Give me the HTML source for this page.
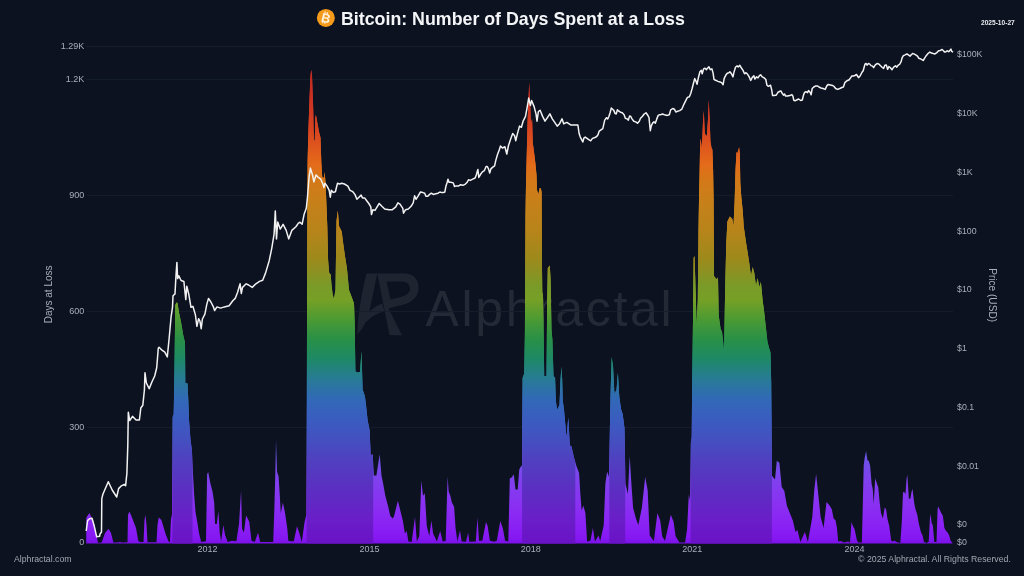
<!DOCTYPE html>
<html><head><meta charset="utf-8"><title>Bitcoin: Number of Days Spent at a Loss</title>
<style>
html,body{margin:0;padding:0;background:#0c1220;}
body{width:1024px;height:576px;overflow:hidden;position:relative;font-family:"Liberation Sans",Arial,sans-serif;}
svg{position:absolute;left:0;top:0;}
.title{position:absolute;left:341px;top:8.9px;font-weight:bold;font-size:17.8px;color:#f4f5f7;white-space:nowrap;letter-spacing:0px;}
.date{position:absolute;left:981px;top:18.5px;font-weight:bold;font-size:6.6px;color:#e8eaee;white-space:nowrap;}
</style></head>
<body>
<svg width="1024" height="576" viewBox="0 0 1024 576" font-family="'Liberation Sans', Arial, sans-serif">
<defs>
<linearGradient id="g" gradientUnits="userSpaceOnUse" x1="0" y1="543.6" x2="0" y2="45.0"><stop offset="0.0000" stop-color="#6a12c6"/><stop offset="0.0473" stop-color="#6a1ec8"/><stop offset="0.1075" stop-color="#5c2ec2"/><stop offset="0.1677" stop-color="#5040c0"/><stop offset="0.2078" stop-color="#4450c0"/><stop offset="0.2479" stop-color="#3a5cc0"/><stop offset="0.2880" stop-color="#3268b8"/><stop offset="0.3281" stop-color="#287a98"/><stop offset="0.3682" stop-color="#1e8868"/><stop offset="0.4083" stop-color="#289048"/><stop offset="0.4485" stop-color="#4a9a34"/><stop offset="0.4886" stop-color="#76a026"/><stop offset="0.5187" stop-color="#7a9a28"/><stop offset="0.5688" stop-color="#9c8a1c"/><stop offset="0.6290" stop-color="#b8841a"/><stop offset="0.6891" stop-color="#c8801a"/><stop offset="0.7292" stop-color="#d47818"/><stop offset="0.7593" stop-color="#e46c1a"/><stop offset="0.7894" stop-color="#e05a1c"/><stop offset="0.8295" stop-color="#d84420"/><stop offset="0.8897" stop-color="#cc3222"/><stop offset="0.9499" stop-color="#c02a22"/><stop offset="1.0000" stop-color="#b82822"/></linearGradient>
<linearGradient id="gb" gradientUnits="userSpaceOnUse" x1="0" y1="543.6" x2="0" y2="45.0"><stop offset="0.0000" stop-color="#7a10e6"/><stop offset="0.0112" stop-color="#8618f2"/><stop offset="0.0373" stop-color="#8a22f4"/><stop offset="0.0774" stop-color="#8a30f2"/><stop offset="0.1276" stop-color="#8040ee"/><stop offset="0.1777" stop-color="#6c54e6"/><stop offset="0.2278" stop-color="#5468dc"/><stop offset="0.2780" stop-color="#4078d0"/><stop offset="0.3281" stop-color="#2a8aa8"/><stop offset="0.3682" stop-color="#209478"/><stop offset="0.4083" stop-color="#2c9a50"/><stop offset="0.4485" stop-color="#50a238"/><stop offset="0.4886" stop-color="#7ca82a"/><stop offset="0.5187" stop-color="#84a42a"/><stop offset="0.5688" stop-color="#a89620"/><stop offset="0.6290" stop-color="#c8901c"/><stop offset="0.6891" stop-color="#d88a1a"/><stop offset="0.7292" stop-color="#e0821a"/><stop offset="0.7593" stop-color="#e8721c"/><stop offset="0.7894" stop-color="#e6601e"/><stop offset="0.8295" stop-color="#dc4a22"/><stop offset="0.8897" stop-color="#d03824"/><stop offset="0.9499" stop-color="#c42e24"/><stop offset="1.0000" stop-color="#bc2a24"/></linearGradient>
<clipPath id="tall"><rect x="172.4" y="0" width="20.1" height="576"/><rect x="306.6" y="0" width="66.6" height="576"/><rect x="522.1" y="0" width="53.2" height="576"/><rect x="609.3" y="0" width="15.9" height="576"/><rect x="690.6" y="0" width="81.3" height="576"/></clipPath>
</defs>
<g fill="#1e2531">
<path d="M366.5,273.5 L377.3,273.5 L368,318 C365,324 362,329 357.5,334.5 C357.5,320 360,300 366.5,273.5 Z"/>
<path d="M357.5,333 C361,319 370,308 382,303.5 L384.5,311 C372,315 364,322 357.5,333 Z"/>
<path fill-rule="evenodd" d="M377.3,273.5 L404,273.5 C415,273.5 419,281 418.5,289 C418,299 409,304 398,306 L388.5,308.5 L402,335.5 L389.5,335 Z M386.5,281.5 L402,281.5 C407.5,281.5 410,285 410,289 C410,293 406,296 399,297.5 L390.5,299.5 Z"/>
</g>
<text x="425.5" y="325.6" font-family="'Liberation Sans', sans-serif" font-size="50" fill="#232a36" textLength="246" lengthAdjust="spacing">Alphractal</text>
<line x1="86.5" y1="427.4" x2="953" y2="427.4" stroke="#171e2c" stroke-width="1"/><line x1="86.5" y1="311.6" x2="953" y2="311.6" stroke="#171e2c" stroke-width="1"/><line x1="86.5" y1="195.4" x2="953" y2="195.4" stroke="#171e2c" stroke-width="1"/><line x1="86.5" y1="79.3" x2="953" y2="79.3" stroke="#171e2c" stroke-width="1"/><line x1="86.5" y1="46.5" x2="953" y2="46.5" stroke="#171e2c" stroke-width="1"/>
<path d="M86.2,543.6 L86.3,517.7 L89.5,512.9 L93.4,521.5 L96.7,535.8 L98.0,542.8 L101.0,542.8 L102.0,541.6 L105.0,533.0 L108.6,528.7 L111.0,533.0 L113.4,542.5 L117.0,542.5 L120.0,541.9 L122.0,542.5 L127.5,542.2 L128.0,515.0 L129.3,511.5 L131.0,515.0 L133.5,521.5 L136.0,528.0 L138.3,541.1 L140.0,542.0 L143.5,542.0 L144.5,520.0 L145.4,514.8 L146.5,525.0 L147.5,542.2 L156.5,542.2 L157.5,525.0 L158.7,517.6 L161.4,520.0 L165.7,534.3 L168.6,541.5 L170.0,542.2 L170.9,520.0 L172.0,514.3 L172.6,417.1 L173.7,414.3 L174.3,380.0 L175.3,305.0 L176.5,302.4 L177.5,303.0 L179.0,312.5 L181.0,322.0 L183.2,335.0 L184.8,341.8 L185.0,342.0 L185.3,383.0 L187.5,383.5 L188.3,400.0 L189.0,420.0 L190.5,440.0 L191.9,450.0 L193.0,474.0 L194.2,495.0 L195.5,512.0 L197.3,522.0 L199.0,533.0 L201.2,541.9 L206.0,541.3 L207.1,474.2 L208.2,472.0 L210.3,482.9 L212.5,491.5 L214.2,502.4 L215.1,524.0 L216.8,524.0 L218.4,511.0 L219.7,532.7 L221.2,541.3 L223.3,525.1 L225.1,534.9 L227.7,541.9 L232.0,540.8 L236.4,541.3 L239.0,524.0 L241.1,490.4 L242.0,528.4 L243.9,532.7 L246.1,515.4 L248.3,519.7 L249.3,521.9 L251.5,540.8 L254.8,541.9 L258.0,532.7 L260.2,541.9 L273.2,541.9 L274.3,511.0 L275.3,474.2 L276.0,439.5 L277.1,472.0 L278.6,476.4 L279.7,493.7 L280.8,513.2 L282.9,502.4 L285.1,513.2 L287.3,528.4 L288.3,540.8 L290.5,541.3 L293.8,541.3 L297.0,526.2 L299.2,532.7 L301.8,541.9 L304.6,521.9 L306.3,515.0 L306.8,400.0 L307.2,250.0 L307.6,162.1 L308.4,130.5 L309.6,96.5 L310.5,75.0 L311.3,69.7 L312.0,75.0 L312.5,89.2 L313.2,108.6 L313.6,130.0 L314.1,141.0 L314.8,140.0 L315.3,118.0 L315.9,114.7 L316.7,119.0 L317.4,123.2 L319.3,133.0 L320.5,137.8 L321.3,162.0 L322.2,176.7 L324.0,178.0 L324.7,171.9 L325.4,181.6 L326.1,196.2 L327.3,226.3 L328.1,260.1 L329.2,273.1 L330.7,274.4 L331.5,285.0 L332.6,294.0 L333.9,299.2 L335.5,290.0 L336.5,221.0 L337.8,210.6 L339.1,226.3 L341.7,231.5 L343.0,241.9 L344.8,254.9 L346.9,267.9 L349.0,290.0 L352.4,299.0 L354.0,303.6 L354.7,323.9 L355.4,371.4 L357.6,372.5 L360.0,372.0 L361.5,351.0 L362.6,389.4 L364.9,396.2 L366.0,405.0 L367.6,420.2 L369.6,430.2 L370.7,455.4 L372.7,454.2 L373.9,475.6 L376.4,475.6 L379.7,454.2 L381.5,475.6 L383.5,485.6 L385.3,495.7 L388.3,507.0 L390.3,515.9 L392.8,518.4 L394.1,515.9 L397.9,500.8 L400.4,510.8 L402.9,520.9 L404.9,533.5 L406.7,531.0 L408.4,541.5 L411.7,542.1 L415.0,517.1 L416.8,541.5 L419.3,536.0 L421.3,480.6 L423.0,495.7 L424.8,493.2 L426.8,525.9 L429.3,536.0 L431.4,520.4 L433.1,533.5 L436.9,541.5 L440.2,531.0 L442.7,541.5 L445.7,540.9 L447.6,476.4 L448.7,491.6 L450.4,495.9 L451.9,502.4 L454.1,506.8 L455.6,528.5 L457.4,541.4 L460.0,530.6 L461.7,541.4 L466.0,541.7 L468.2,532.8 L469.3,541.7 L475.8,541.4 L477.5,517.6 L479.0,540.8 L482.3,540.8 L486.0,522.0 L487.7,526.3 L489.9,540.8 L494.2,541.7 L496.8,540.8 L500.3,520.9 L502.9,528.5 L505.1,540.8 L508.3,541.4 L509.8,478.6 L511.6,477.5 L513.8,474.2 L515.5,489.4 L517.7,489.4 L519.2,469.9 L520.0,467.8 L522.0,465.3 L522.3,420.0 L522.6,378.0 L524.2,373.5 L524.9,332.9 L525.5,215.0 L526.0,184.4 L526.8,152.8 L527.5,123.7 L528.5,99.3 L529.2,82.3 L530.2,104.2 L530.9,123.7 L532.1,118.8 L532.8,143.1 L534.1,152.8 L535.3,162.6 L536.5,175.0 L537.0,190.0 L538.4,194.2 L539.6,188.2 L540.8,188.3 L541.6,192.0 L541.9,260.0 L542.3,292.0 L543.0,295.0 L543.6,330.0 L544.2,376.0 L546.5,376.0 L547.2,300.0 L547.8,268.0 L549.8,265.4 L550.6,280.0 L551.5,330.0 L552.4,339.7 L553.5,375.8 L555.1,378.0 L555.8,400.0 L557.0,410.0 L559.5,405.0 L560.5,380.0 L561.4,366.7 L562.2,380.0 L562.7,400.0 L564.0,410.0 L566.5,437.7 L568.3,417.6 L569.8,445.2 L571.5,446.5 L574.0,457.8 L576.6,466.6 L579.1,472.9 L580.3,493.0 L581.6,510.6 L583.3,505.5 L585.4,513.1 L587.1,541.4 L590.4,540.8 L592.9,528.1 L594.9,541.4 L598.5,535.6 L600.2,540.9 L603.7,525.2 L605.4,483.6 L607.1,471.5 L608.9,476.7 L610.6,393.5 L611.6,357.1 L613.0,365.8 L614.4,393.5 L616.5,390.0 L617.9,372.7 L619.3,397.0 L621.0,409.1 L622.7,414.3 L624.5,428.2 L625.5,483.6 L627.9,494.0 L629.7,455.9 L631.4,483.6 L633.1,507.9 L635.9,518.3 L638.3,525.2 L641.8,507.9 L645.2,476.7 L647.7,490.5 L649.7,535.6 L653.9,540.9 L657.4,513.0 L660.2,520.4 L662.2,536.2 L665.0,541.0 L670.8,514.7 L673.6,521.8 L675.6,536.2 L679.4,542.5 L685.1,542.5 L687.1,529.0 L688.8,494.6 L690.0,500.3 L690.8,443.0 L691.7,437.3 L692.2,380.0 L693.0,320.0 L693.6,258.0 L694.5,256.1 L695.3,280.0 L696.6,325.0 L697.8,300.0 L698.5,230.0 L699.0,200.0 L699.5,177.6 L700.2,141.1 L700.7,138.7 L701.9,148.4 L703.1,119.2 L703.8,110.7 L704.8,133.8 L706.8,136.2 L708.0,119.2 L708.7,99.7 L709.7,119.2 L710.4,141.1 L711.6,148.4 L712.4,149.6 L713.1,170.3 L713.6,200.0 L714.0,275.9 L716.4,279.2 L718.0,277.6 L718.7,315.5 L720.6,328.7 L722.0,332.0 L723.0,340.0 L724.0,352.0 L725.3,282.5 L726.3,242.9 L727.4,221.4 L729.9,216.5 L732.3,219.0 L733.5,226.0 L734.7,200.0 L735.5,170.3 L736.5,152.0 L737.4,153.2 L739.1,147.2 L739.8,153.2 L740.3,182.5 L741.3,197.0 L742.8,211.6 L743.7,226.3 L746.1,242.9 L747.7,252.8 L749.4,264.0 L751.0,276.0 L752.7,267.0 L754.3,273.0 L756.0,286.0 L757.6,278.0 L759.3,287.0 L760.9,282.0 L762.6,300.0 L764.2,312.2 L765.6,325.0 L767.5,342.0 L769.2,348.5 L770.5,352.4 L771.2,382.3 L772.0,475.8 L775.0,479.5 L776.8,460.8 L779.4,462.7 L781.7,487.0 L784.3,490.7 L786.9,505.7 L789.9,513.2 L792.9,520.7 L795.5,531.9 L797.4,530.0 L800.4,541.9 L804.9,531.9 L807.9,541.9 L812.3,516.9 L814.2,490.7 L816.1,473.9 L817.9,490.7 L820.6,516.9 L823.6,528.1 L826.5,502.0 L829.2,505.0 L831.8,509.3 L833.6,518.4 L835.5,520.2 L836.9,527.5 L838.2,541.5 L840.9,541.0 L843.7,542.4 L848.2,541.5 L850.0,542.4 L851.5,522.0 L852.8,525.7 L854.6,529.3 L857.0,540.5 L858.3,542.4 L861.9,542.4 L863.7,465.5 L864.6,458.2 L866.1,450.9 L867.4,460.0 L868.8,461.0 L870.1,465.5 L871.6,483.7 L872.8,489.2 L873.7,503.8 L875.2,478.3 L877.0,483.7 L878.3,487.4 L879.6,502.0 L881.0,512.9 L882.9,518.4 L884.7,507.4 L886.1,509.3 L887.4,518.4 L889.2,525.7 L891.2,540.6 L893.0,541.4 L894.4,540.6 L896.6,542.1 L900.3,542.9 L901.8,522.0 L903.0,492.5 L904.0,491.8 L905.5,494.0 L906.5,479.2 L907.3,474.8 L908.0,485.1 L908.9,499.1 L910.4,498.4 L911.4,492.5 L912.5,488.8 L913.3,495.4 L914.4,504.3 L915.8,510.2 L917.3,514.7 L918.8,523.5 L921.0,532.4 L922.5,535.3 L924.0,542.1 L926.9,542.9 L928.7,541.4 L929.9,519.1 L930.6,513.9 L931.7,523.5 L932.8,525.0 L934.3,542.1 L936.5,542.1 L937.6,508.7 L938.4,506.5 L939.9,510.2 L941.4,513.2 L942.9,516.1 L944.4,527.9 L946.1,530.9 L947.6,532.4 L949.1,535.3 L950.6,540.6 L952.0,542.5 L952.8,543.6 Z" fill="url(#gb)"/>
<path d="M86.2,543.6 L86.3,517.7 L89.5,512.9 L93.4,521.5 L96.7,535.8 L98.0,542.8 L101.0,542.8 L102.0,541.6 L105.0,533.0 L108.6,528.7 L111.0,533.0 L113.4,542.5 L117.0,542.5 L120.0,541.9 L122.0,542.5 L127.5,542.2 L128.0,515.0 L129.3,511.5 L131.0,515.0 L133.5,521.5 L136.0,528.0 L138.3,541.1 L140.0,542.0 L143.5,542.0 L144.5,520.0 L145.4,514.8 L146.5,525.0 L147.5,542.2 L156.5,542.2 L157.5,525.0 L158.7,517.6 L161.4,520.0 L165.7,534.3 L168.6,541.5 L170.0,542.2 L170.9,520.0 L172.0,514.3 L172.6,417.1 L173.7,414.3 L174.3,380.0 L175.3,305.0 L176.5,302.4 L177.5,303.0 L179.0,312.5 L181.0,322.0 L183.2,335.0 L184.8,341.8 L185.0,342.0 L185.3,383.0 L187.5,383.5 L188.3,400.0 L189.0,420.0 L190.5,440.0 L191.9,450.0 L193.0,474.0 L194.2,495.0 L195.5,512.0 L197.3,522.0 L199.0,533.0 L201.2,541.9 L206.0,541.3 L207.1,474.2 L208.2,472.0 L210.3,482.9 L212.5,491.5 L214.2,502.4 L215.1,524.0 L216.8,524.0 L218.4,511.0 L219.7,532.7 L221.2,541.3 L223.3,525.1 L225.1,534.9 L227.7,541.9 L232.0,540.8 L236.4,541.3 L239.0,524.0 L241.1,490.4 L242.0,528.4 L243.9,532.7 L246.1,515.4 L248.3,519.7 L249.3,521.9 L251.5,540.8 L254.8,541.9 L258.0,532.7 L260.2,541.9 L273.2,541.9 L274.3,511.0 L275.3,474.2 L276.0,439.5 L277.1,472.0 L278.6,476.4 L279.7,493.7 L280.8,513.2 L282.9,502.4 L285.1,513.2 L287.3,528.4 L288.3,540.8 L290.5,541.3 L293.8,541.3 L297.0,526.2 L299.2,532.7 L301.8,541.9 L304.6,521.9 L306.3,515.0 L306.8,400.0 L307.2,250.0 L307.6,162.1 L308.4,130.5 L309.6,96.5 L310.5,75.0 L311.3,69.7 L312.0,75.0 L312.5,89.2 L313.2,108.6 L313.6,130.0 L314.1,141.0 L314.8,140.0 L315.3,118.0 L315.9,114.7 L316.7,119.0 L317.4,123.2 L319.3,133.0 L320.5,137.8 L321.3,162.0 L322.2,176.7 L324.0,178.0 L324.7,171.9 L325.4,181.6 L326.1,196.2 L327.3,226.3 L328.1,260.1 L329.2,273.1 L330.7,274.4 L331.5,285.0 L332.6,294.0 L333.9,299.2 L335.5,290.0 L336.5,221.0 L337.8,210.6 L339.1,226.3 L341.7,231.5 L343.0,241.9 L344.8,254.9 L346.9,267.9 L349.0,290.0 L352.4,299.0 L354.0,303.6 L354.7,323.9 L355.4,371.4 L357.6,372.5 L360.0,372.0 L361.5,351.0 L362.6,389.4 L364.9,396.2 L366.0,405.0 L367.6,420.2 L369.6,430.2 L370.7,455.4 L372.7,454.2 L373.9,475.6 L376.4,475.6 L379.7,454.2 L381.5,475.6 L383.5,485.6 L385.3,495.7 L388.3,507.0 L390.3,515.9 L392.8,518.4 L394.1,515.9 L397.9,500.8 L400.4,510.8 L402.9,520.9 L404.9,533.5 L406.7,531.0 L408.4,541.5 L411.7,542.1 L415.0,517.1 L416.8,541.5 L419.3,536.0 L421.3,480.6 L423.0,495.7 L424.8,493.2 L426.8,525.9 L429.3,536.0 L431.4,520.4 L433.1,533.5 L436.9,541.5 L440.2,531.0 L442.7,541.5 L445.7,540.9 L447.6,476.4 L448.7,491.6 L450.4,495.9 L451.9,502.4 L454.1,506.8 L455.6,528.5 L457.4,541.4 L460.0,530.6 L461.7,541.4 L466.0,541.7 L468.2,532.8 L469.3,541.7 L475.8,541.4 L477.5,517.6 L479.0,540.8 L482.3,540.8 L486.0,522.0 L487.7,526.3 L489.9,540.8 L494.2,541.7 L496.8,540.8 L500.3,520.9 L502.9,528.5 L505.1,540.8 L508.3,541.4 L509.8,478.6 L511.6,477.5 L513.8,474.2 L515.5,489.4 L517.7,489.4 L519.2,469.9 L520.0,467.8 L522.0,465.3 L522.3,420.0 L522.6,378.0 L524.2,373.5 L524.9,332.9 L525.5,215.0 L526.0,184.4 L526.8,152.8 L527.5,123.7 L528.5,99.3 L529.2,82.3 L530.2,104.2 L530.9,123.7 L532.1,118.8 L532.8,143.1 L534.1,152.8 L535.3,162.6 L536.5,175.0 L537.0,190.0 L538.4,194.2 L539.6,188.2 L540.8,188.3 L541.6,192.0 L541.9,260.0 L542.3,292.0 L543.0,295.0 L543.6,330.0 L544.2,376.0 L546.5,376.0 L547.2,300.0 L547.8,268.0 L549.8,265.4 L550.6,280.0 L551.5,330.0 L552.4,339.7 L553.5,375.8 L555.1,378.0 L555.8,400.0 L557.0,410.0 L559.5,405.0 L560.5,380.0 L561.4,366.7 L562.2,380.0 L562.7,400.0 L564.0,410.0 L566.5,437.7 L568.3,417.6 L569.8,445.2 L571.5,446.5 L574.0,457.8 L576.6,466.6 L579.1,472.9 L580.3,493.0 L581.6,510.6 L583.3,505.5 L585.4,513.1 L587.1,541.4 L590.4,540.8 L592.9,528.1 L594.9,541.4 L598.5,535.6 L600.2,540.9 L603.7,525.2 L605.4,483.6 L607.1,471.5 L608.9,476.7 L610.6,393.5 L611.6,357.1 L613.0,365.8 L614.4,393.5 L616.5,390.0 L617.9,372.7 L619.3,397.0 L621.0,409.1 L622.7,414.3 L624.5,428.2 L625.5,483.6 L627.9,494.0 L629.7,455.9 L631.4,483.6 L633.1,507.9 L635.9,518.3 L638.3,525.2 L641.8,507.9 L645.2,476.7 L647.7,490.5 L649.7,535.6 L653.9,540.9 L657.4,513.0 L660.2,520.4 L662.2,536.2 L665.0,541.0 L670.8,514.7 L673.6,521.8 L675.6,536.2 L679.4,542.5 L685.1,542.5 L687.1,529.0 L688.8,494.6 L690.0,500.3 L690.8,443.0 L691.7,437.3 L692.2,380.0 L693.0,320.0 L693.6,258.0 L694.5,256.1 L695.3,280.0 L696.6,325.0 L697.8,300.0 L698.5,230.0 L699.0,200.0 L699.5,177.6 L700.2,141.1 L700.7,138.7 L701.9,148.4 L703.1,119.2 L703.8,110.7 L704.8,133.8 L706.8,136.2 L708.0,119.2 L708.7,99.7 L709.7,119.2 L710.4,141.1 L711.6,148.4 L712.4,149.6 L713.1,170.3 L713.6,200.0 L714.0,275.9 L716.4,279.2 L718.0,277.6 L718.7,315.5 L720.6,328.7 L722.0,332.0 L723.0,340.0 L724.0,352.0 L725.3,282.5 L726.3,242.9 L727.4,221.4 L729.9,216.5 L732.3,219.0 L733.5,226.0 L734.7,200.0 L735.5,170.3 L736.5,152.0 L737.4,153.2 L739.1,147.2 L739.8,153.2 L740.3,182.5 L741.3,197.0 L742.8,211.6 L743.7,226.3 L746.1,242.9 L747.7,252.8 L749.4,264.0 L751.0,276.0 L752.7,267.0 L754.3,273.0 L756.0,286.0 L757.6,278.0 L759.3,287.0 L760.9,282.0 L762.6,300.0 L764.2,312.2 L765.6,325.0 L767.5,342.0 L769.2,348.5 L770.5,352.4 L771.2,382.3 L772.0,475.8 L775.0,479.5 L776.8,460.8 L779.4,462.7 L781.7,487.0 L784.3,490.7 L786.9,505.7 L789.9,513.2 L792.9,520.7 L795.5,531.9 L797.4,530.0 L800.4,541.9 L804.9,531.9 L807.9,541.9 L812.3,516.9 L814.2,490.7 L816.1,473.9 L817.9,490.7 L820.6,516.9 L823.6,528.1 L826.5,502.0 L829.2,505.0 L831.8,509.3 L833.6,518.4 L835.5,520.2 L836.9,527.5 L838.2,541.5 L840.9,541.0 L843.7,542.4 L848.2,541.5 L850.0,542.4 L851.5,522.0 L852.8,525.7 L854.6,529.3 L857.0,540.5 L858.3,542.4 L861.9,542.4 L863.7,465.5 L864.6,458.2 L866.1,450.9 L867.4,460.0 L868.8,461.0 L870.1,465.5 L871.6,483.7 L872.8,489.2 L873.7,503.8 L875.2,478.3 L877.0,483.7 L878.3,487.4 L879.6,502.0 L881.0,512.9 L882.9,518.4 L884.7,507.4 L886.1,509.3 L887.4,518.4 L889.2,525.7 L891.2,540.6 L893.0,541.4 L894.4,540.6 L896.6,542.1 L900.3,542.9 L901.8,522.0 L903.0,492.5 L904.0,491.8 L905.5,494.0 L906.5,479.2 L907.3,474.8 L908.0,485.1 L908.9,499.1 L910.4,498.4 L911.4,492.5 L912.5,488.8 L913.3,495.4 L914.4,504.3 L915.8,510.2 L917.3,514.7 L918.8,523.5 L921.0,532.4 L922.5,535.3 L924.0,542.1 L926.9,542.9 L928.7,541.4 L929.9,519.1 L930.6,513.9 L931.7,523.5 L932.8,525.0 L934.3,542.1 L936.5,542.1 L937.6,508.7 L938.4,506.5 L939.9,510.2 L941.4,513.2 L942.9,516.1 L944.4,527.9 L946.1,530.9 L947.6,532.4 L949.1,535.3 L950.6,540.6 L952.0,542.5 L952.8,543.6 Z" fill="url(#g)" clip-path="url(#tall)"/>
<path d="M86.2,531.0 L87.6,520.6 L89.5,518.7 L92.0,518.2 L94.3,526.3 L96.7,536.8 L99.6,536.3 L100.0,534.0 L101.5,532.0 L101.8,498.6 L102.9,494.3 L104.7,490.0 L108.3,481.7 L112.2,490.0 L116.7,497.0 L118.6,488.6 L121.4,485.8 L124.2,484.4 L125.6,485.8 L126.9,473.3 L127.8,445.6 L128.3,412.2 L129.7,420.6 L132.5,416.4 L136.1,420.0 L139.4,420.0 L140.8,408.0 L142.8,405.3 L144.4,390.0 L145.0,372.8 L146.4,383.0 L149.2,388.6 L152.0,381.7 L154.7,376.0 L156.7,367.8 L157.5,358.0 L158.3,348.3 L159.1,347.3 L162.0,350.2 L164.8,352.1 L167.3,356.9 L169.2,337.8 L171.1,316.8 L172.5,307.3 L173.0,295.8 L175.0,293.9 L175.9,276.7 L176.9,262.4 L177.6,278.6 L178.8,275.8 L181.1,280.5 L183.9,281.5 L185.8,299.6 L186.8,286.3 L188.7,293.9 L191.0,307.3 L192.9,306.3 L195.4,314.9 L196.9,326.3 L198.6,318.7 L200.0,321.4 L201.2,328.7 L202.4,319.0 L204.9,314.2 L206.8,304.4 L208.5,298.4 L210.9,302.0 L213.4,306.9 L214.6,310.5 L217.0,306.9 L220.6,308.1 L224.3,306.9 L229.1,305.7 L232.8,300.8 L235.2,298.4 L237.6,292.3 L240.1,283.8 L241.3,293.5 L242.5,287.4 L246.2,283.8 L248.6,285.0 L252.2,287.4 L255.9,283.8 L259.5,281.4 L262.7,280.2 L265.6,272.9 L269.2,260.7 L271.7,248.6 L274.1,234.0 L275.3,210.9 L276.5,238.9 L277.7,221.9 L280.2,229.1 L283.1,224.3 L286.2,230.4 L288.7,238.9 L291.8,230.4 L295.9,226.7 L298.4,223.1 L300.0,222.2 L302.1,224.3 L304.2,213.9 L306.3,208.3 L307.6,195.8 L309.0,177.8 L310.4,168.1 L312.5,175.0 L313.9,181.9 L316.0,175.0 L318.1,177.1 L320.8,179.2 L322.9,184.0 L323.9,187.5 L325.0,183.3 L327.1,186.1 L329.2,190.3 L330.3,197.2 L331.3,190.3 L333.3,192.4 L335.4,191.7 L337.5,183.3 L339.6,184.0 L341.7,183.3 L344.4,184.0 L347.9,186.1 L350.0,190.3 L352.8,191.7 L354.9,194.4 L356.9,199.3 L359.0,197.2 L361.1,195.1 L362.5,197.9 L364.6,197.9 L366.7,200.7 L368.8,203.5 L370.8,206.9 L371.5,214.6 L372.9,209.7 L375.0,210.4 L377.1,206.9 L379.2,203.5 L381.9,206.3 L384.7,209.0 L388.9,209.7 L392.4,209.7 L395.8,206.9 L397.9,202.8 L400.0,204.2 L402.8,208.3 L403.5,213.2 L405.6,209.7 L408.3,209.0 L411.1,206.3 L413.2,202.8 L414.6,195.8 L416.0,199.3 L418.0,196.2 L420.5,192.0 L422.9,192.6 L424.7,193.2 L425.9,196.2 L427.8,196.2 L429.6,194.4 L431.4,193.2 L433.2,194.4 L435.7,193.8 L438.1,193.2 L439.9,192.0 L441.7,192.6 L443.6,192.6 L444.8,192.0 L446.0,185.9 L447.2,182.2 L448.0,179.2 L449.0,182.2 L450.8,182.2 L453.3,182.9 L454.5,186.5 L456.3,185.9 L458.7,185.9 L460.6,184.7 L463.0,185.3 L465.4,184.1 L467.2,182.2 L468.5,179.8 L470.3,180.4 L472.7,179.2 L475.1,178.0 L476.3,175.0 L477.6,170.1 L477.9,169.5 L478.8,177.4 L480.6,174.3 L482.4,171.9 L484.3,170.7 L486.1,166.5 L487.3,166.5 L488.5,168.9 L489.7,173.1 L490.9,168.9 L492.8,167.1 L494.6,165.8 L495.8,160.4 L497.6,154.3 L499.4,149.4 L500.5,146.0 L502.4,148.0 L504.9,146.8 L506.8,154.0 L508.5,145.5 L510.9,138.3 L512.7,133.4 L514.6,135.8 L515.8,140.7 L517.5,133.4 L519.5,126.1 L521.4,127.3 L523.1,121.2 L525.5,116.4 L527.3,106.6 L528.7,98.1 L530.4,105.4 L531.6,100.5 L534.1,106.6 L536.0,113.9 L537.0,121.2 L538.4,111.5 L540.1,110.3 L542.6,116.4 L545.0,121.2 L547.4,117.6 L549.9,113.9 L552.3,118.8 L554.7,122.4 L557.2,126.1 L559.6,123.7 L562.0,118.8 L563.7,123.7 L566.9,122.4 L570.6,124.9 L574.2,124.9 L577.9,125.0 L579.1,133.5 L580.3,137.1 L581.6,139.6 L582.8,142.0 L584.0,137.8 L585.2,137.1 L587.0,138.4 L589.5,140.2 L590.7,140.8 L592.5,138.4 L594.3,137.8 L596.7,136.5 L598.0,134.7 L599.2,131.1 L601.0,129.8 L602.8,128.6 L604.7,120.1 L606.5,117.7 L607.7,118.9 L608.9,116.5 L610.1,112.8 L611.3,108.0 L612.6,109.2 L613.8,110.4 L615.0,113.4 L616.2,114.0 L617.4,109.8 L618.6,111.0 L620.5,112.2 L622.3,112.8 L624.1,114.7 L625.3,118.3 L627.1,118.9 L628.4,120.1 L629.6,115.9 L630.8,116.5 L632.0,118.9 L633.8,121.3 L635.7,121.9 L637.5,123.2 L639.3,121.3 L640.5,118.3 L642.3,116.5 L644.2,114.0 L646.0,112.8 L647.8,115.3 L649.0,117.5 L649.4,121.7 L650.3,130.7 L651.3,125.8 L652.6,123.1 L654.0,121.7 L655.4,123.1 L656.8,118.9 L658.2,115.4 L659.6,114.7 L661.0,114.7 L662.4,114.0 L664.4,114.7 L667.2,115.4 L669.3,114.7 L670.7,109.9 L672.8,108.5 L674.4,109.2 L675.8,112.0 L677.6,111.3 L679.7,110.6 L681.8,109.2 L683.9,104.3 L686.0,100.1 L687.4,97.4 L689.4,96.7 L690.8,93.2 L692.2,88.3 L693.6,82.8 L694.7,78.6 L696.1,81.4 L697.1,84.2 L698.5,77.2 L699.9,71.7 L701.3,70.3 L702.2,73.8 L703.6,68.9 L705.0,68.2 L706.4,69.6 L707.5,68.2 L708.9,66.8 L710.3,69.6 L711.9,68.9 L713.1,73.1 L714.0,79.3 L715.1,80.0 L716.5,80.7 L717.9,81.4 L720.0,82.0 L721.6,82.6 L723.1,84.7 L724.2,78.4 L725.7,75.3 L727.3,73.2 L728.9,72.7 L729.9,71.7 L731.5,73.8 L733.0,76.9 L734.1,71.7 L735.6,67.0 L737.2,65.9 L738.2,67.0 L739.8,65.4 L741.4,68.0 L742.9,70.1 L744.5,73.8 L746.0,72.7 L747.6,74.3 L749.2,76.9 L750.7,80.5 L752.3,77.4 L753.9,75.8 L754.9,79.0 L756.5,76.9 L758.0,77.9 L759.6,75.3 L760.6,74.8 L762.2,76.9 L764.3,77.9 L765.8,79.5 L766.9,85.2 L768.4,86.3 L770.5,85.2 L771.6,89.4 L772.6,95.6 L774.2,95.6 L776.3,95.1 L777.8,92.5 L779.4,91.5 L780.9,90.9 L782.0,93.0 L783.5,95.1 L784.6,94.1 L785.6,96.1 L787.7,96.1 L789.8,95.6 L791.9,94.6 L792.9,96.1 L793.8,100.3 L795.0,100.8 L796.6,100.0 L798.6,99.0 L800.7,100.5 L802.3,100.0 L803.3,95.8 L804.4,92.7 L805.9,91.7 L807.5,92.7 L808.5,90.6 L810.1,92.2 L811.1,94.8 L812.2,88.5 L813.8,87.0 L815.8,85.9 L817.4,85.9 L819.0,87.0 L821.0,88.0 L823.1,88.5 L825.2,89.4 L826.8,85.9 L828.3,84.4 L830.4,84.9 L832.5,85.4 L834.1,86.5 L835.6,88.5 L837.7,89.4 L839.8,88.5 L841.9,87.5 L843.4,87.0 L845.0,82.3 L847.1,80.7 L849.2,79.7 L850.7,77.6 L851.8,76.0 L853.3,76.0 L854.9,75.5 L856.5,74.5 L857.5,76.0 L858.5,77.6 L860.1,76.0 L861.1,74.0 L862.2,71.9 L863.2,70.8 L864.0,67.7 L865.0,64.1 L866.0,63.5 L867.1,65.1 L868.4,63.5 L869.8,64.1 L871.0,65.6 L872.6,66.1 L873.6,67.7 L875.3,64.9 L877.0,63.6 L878.8,64.0 L880.5,65.8 L882.3,67.5 L883.6,68.4 L884.9,65.3 L886.3,64.9 L887.6,69.3 L888.9,66.6 L890.2,67.5 L892.0,69.7 L893.7,67.1 L895.5,65.8 L896.8,67.1 L898.1,65.3 L899.9,64.0 L901.2,61.4 L902.1,57.8 L903.4,55.7 L905.2,54.8 L906.9,53.9 L908.7,55.2 L910.0,56.1 L911.3,54.8 L912.6,53.5 L913.9,53.9 L915.7,54.8 L917.5,56.1 L918.8,58.3 L920.1,58.7 L921.9,59.6 L923.2,60.5 L924.5,58.3 L926.2,55.7 L928.0,53.5 L929.8,52.1 L931.5,53.0 L933.3,53.5 L935.0,53.9 L936.8,52.6 L938.6,50.8 L940.3,50.4 L942.1,49.5 L943.4,50.8 L944.7,52.1 L946.0,51.7 L947.3,50.8 L948.7,51.7 L950.0,50.4 L950.9,49.1 L951.7,51.3 L953.1,52.1" fill="none" stroke="#f2f2f2" stroke-width="1.5" stroke-linejoin="round"/>
<g font-size="9" fill="#a9aeb8"><text x="84.2" y="544.7" text-anchor="end">0</text><text x="84.2" y="429.8" text-anchor="end">300</text><text x="84.2" y="314.0" text-anchor="end">600</text><text x="84.2" y="197.8" text-anchor="end">900</text><text x="84.2" y="81.7" text-anchor="end">1.2K</text><text x="84.2" y="48.9" text-anchor="end">1.29K</text></g>
<g font-size="8.8" fill="#a9aeb8"><text x="957" y="57.3">$100K</text><text x="957" y="116.1">$10K</text><text x="957" y="174.8">$1K</text><text x="957" y="233.6">$100</text><text x="957" y="292.3">$10</text><text x="957" y="351.1">$1</text><text x="957" y="409.8">$0.1</text><text x="957" y="468.6">$0.01</text><text x="957" y="527.3">$0</text><text x="957" y="545.0">$0</text></g>
<g font-size="9" fill="#a9aeb8"><text x="207.4" y="552.3" text-anchor="middle">2012</text><text x="369.5" y="552.3" text-anchor="middle">2015</text><text x="530.8" y="552.3" text-anchor="middle">2018</text><text x="692.3" y="552.3" text-anchor="middle">2021</text><text x="854.6" y="552.3" text-anchor="middle">2024</text></g>
<text transform="translate(52.4,323.3) rotate(-90)" font-size="10" fill="#a9aeb8">Days at Loss</text>
<text transform="translate(988.5,268.2) rotate(90)" font-size="10.1" fill="#a9aeb8">Price (USD)</text>
<circle cx="325.85" cy="17.9" r="9" fill="#f59b1c"/>
<g transform="rotate(14 325.85 17.9)" fill="#fff3e0">
<text x="326.1" y="22.4" text-anchor="middle" font-size="12.5" font-weight="bold">B</text>
<rect x="323.3" y="12" width="1.2" height="1.8"/><rect x="325.5" y="12" width="1.2" height="1.8"/>
<rect x="323.3" y="22" width="1.2" height="1.8"/><rect x="325.5" y="22" width="1.2" height="1.8"/>
</g>
<text x="14" y="562" font-size="8.7" fill="#a3a8b1">Alphractal.com</text>
<text x="1010.9" y="562" font-size="8.75" fill="#a3a8b1" text-anchor="end">&#169; 2025 Alphractal. All Rights Reserved.</text>
</svg>
<div class="title">Bitcoin: Number of Days Spent at a Loss</div>
<div class="date">2025-10-27</div>
</body></html>
